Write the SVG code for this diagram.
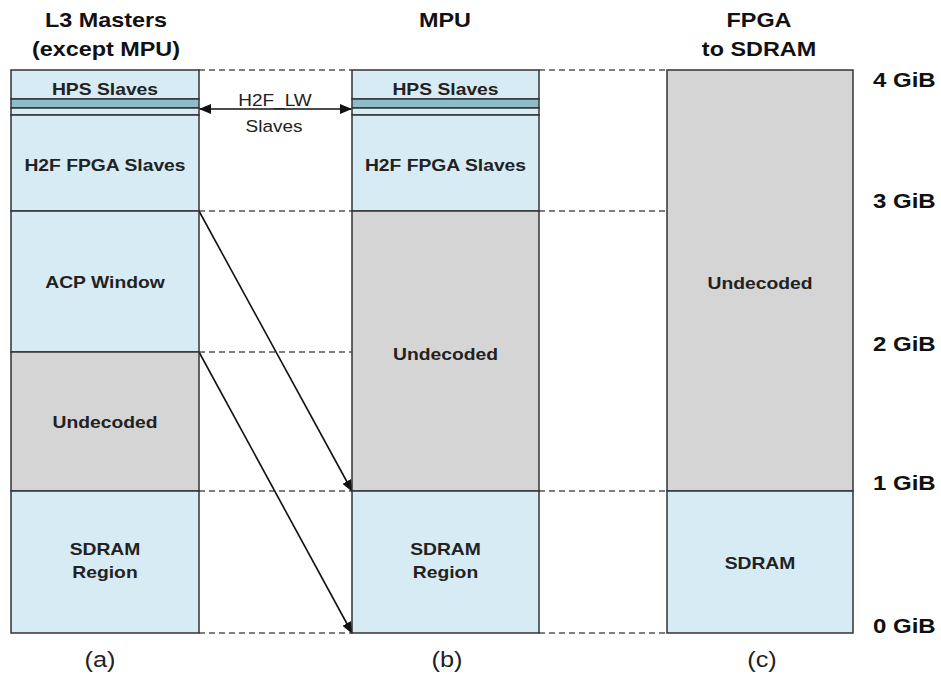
<svg xmlns="http://www.w3.org/2000/svg" width="941" height="677" viewBox="0 0 941 677">
<style>
.blue{fill:#d6ebf3;stroke:#333;stroke-width:1.5}
.gray{fill:#d5d5d5;stroke:#333;stroke-width:1.5}
.teal{fill:#8dbccb;stroke:#333;stroke-width:1.5}
.lbl{font-family:"Liberation Sans",Arial,sans-serif;font-weight:bold;font-size:16.5px;fill:#222;text-anchor:middle}
.ttl{font-family:"Liberation Sans",Arial,sans-serif;font-weight:bold;font-size:19.5px;fill:#111;text-anchor:middle}
.gib{font-family:"Liberation Sans",Arial,sans-serif;font-weight:bold;font-size:20px;fill:#111;text-anchor:start}
.cap{font-family:"Liberation Sans",Arial,sans-serif;font-size:22px;fill:#222;text-anchor:middle}
.norm{font-family:"Liberation Sans",Arial,sans-serif;font-size:16.5px;fill:#222;text-anchor:middle}
.dash{stroke:#555;stroke-width:1.5;stroke-dasharray:6 4;fill:none}
.arr{stroke:#111;stroke-width:1.6;fill:none}
</style>
<defs>
<marker id="ah" markerWidth="12" markerHeight="10" refX="11" refY="5" orient="auto" markerUnits="userSpaceOnUse">
<path d="M0,0 L12,5 L0,10 Z" fill="#111"/>
</marker>
<marker id="ahs" markerWidth="12" markerHeight="10" refX="1" refY="5" orient="auto" markerUnits="userSpaceOnUse">
<path d="M12,0 L0,5 L12,10 Z" fill="#111"/>
</marker>
</defs>
<rect width="941" height="677" fill="#fff"/>

<g id="titles">
<text class="ttl" transform="translate(106,27) scale(1.2,1)">L3 Masters</text>
<text class="ttl" transform="translate(106,56) scale(1.2,1)">(except MPU)</text>
<text class="ttl" transform="translate(445,27) scale(1.2,1)">MPU</text>
<text class="ttl" transform="translate(759,27) scale(1.2,1)">FPGA</text>
<text class="ttl" transform="translate(759,56) scale(1.2,1)">to SDRAM</text>
</g>

<g id="connectors">
<line class="dash" x1="199" y1="70" x2="352" y2="70"/>
<line class="dash" x1="539" y1="70" x2="667" y2="70"/>
<line class="dash" x1="199" y1="211" x2="352" y2="211"/>
<line class="dash" x1="539" y1="211" x2="667" y2="211"/>
<line class="dash" x1="199" y1="352" x2="352" y2="352"/>
<line class="dash" x1="199" y1="491" x2="352" y2="491"/>
<line class="dash" x1="539" y1="491" x2="667" y2="491"/>
<line class="dash" x1="199" y1="633" x2="352" y2="633"/>
<line class="dash" x1="539" y1="633" x2="667" y2="633"/>
<line class="arr" x1="199" y1="211" x2="352" y2="491" marker-end="url(#ah)"/>
<line class="arr" x1="199" y1="352" x2="352" y2="633" marker-end="url(#ah)"/>
<line class="arr" x1="200" y1="109" x2="351" y2="109" marker-start="url(#ahs)" marker-end="url(#ah)"/>
</g>

<g id="col-a">
<rect class="blue" x="11" y="70" width="188" height="29"/>
<rect class="teal" x="11" y="99" width="188" height="9"/>
<rect class="blue" x="11" y="108" width="188" height="7"/>
<rect class="blue" x="11" y="115" width="188" height="96"/>
<rect class="blue" x="11" y="211" width="188" height="141"/>
<rect class="gray" x="11" y="352" width="188" height="139"/>
<rect class="blue" x="11" y="491" width="188" height="142"/>
<text class="lbl" transform="translate(105,95) scale(1.17,1)">HPS Slaves</text>
<text class="lbl" transform="translate(105,171) scale(1.17,1)">H2F FPGA Slaves</text>
<text class="lbl" transform="translate(105,288) scale(1.17,1)">ACP Window</text>
<text class="lbl" transform="translate(105,428) scale(1.17,1)">Undecoded</text>
<text class="lbl" transform="translate(105,555) scale(1.17,1)">SDRAM</text>
<text class="lbl" transform="translate(105,578) scale(1.17,1)">Region</text>
</g>

<g id="col-b">
<rect class="blue" x="352" y="70" width="187" height="29"/>
<rect class="teal" x="352" y="99" width="187" height="9"/>
<rect class="blue" x="352" y="108" width="187" height="7"/>
<rect class="blue" x="352" y="115" width="187" height="96"/>
<rect class="gray" x="352" y="211" width="187" height="280"/>
<rect class="blue" x="352" y="491" width="187" height="142"/>
<text class="lbl" transform="translate(445.5,95) scale(1.17,1)">HPS Slaves</text>
<text class="lbl" transform="translate(445.5,171) scale(1.17,1)">H2F FPGA Slaves</text>
<text class="lbl" transform="translate(445.5,360) scale(1.17,1)">Undecoded</text>
<text class="lbl" transform="translate(445.5,555) scale(1.17,1)">SDRAM</text>
<text class="lbl" transform="translate(445.5,578) scale(1.17,1)">Region</text>
</g>

<g id="col-c">
<rect class="gray" x="667" y="70" width="186" height="421"/>
<rect class="blue" x="667" y="491" width="186" height="142"/>
<text class="lbl" transform="translate(760,289) scale(1.17,1)">Undecoded</text>
<text class="lbl" transform="translate(760,569) scale(1.17,1)">SDRAM</text>
</g>

<g id="h2f-lw-label">
<text class="norm" transform="translate(275,106) scale(1.15,1)">H2F_LW</text>
<text class="norm" transform="translate(274,132) scale(1.15,1)">Slaves</text>
</g>

<g id="scale">
<text class="gib" transform="translate(873,87) scale(1.2,1)">4 GiB</text>
<text class="gib" transform="translate(873,208) scale(1.2,1)">3 GiB</text>
<text class="gib" transform="translate(873,351) scale(1.2,1)">2 GiB</text>
<text class="gib" transform="translate(873,490) scale(1.2,1)">1 GiB</text>
<text class="gib" transform="translate(873,633) scale(1.2,1)">0 GiB</text>
</g>

<g id="captions">
<text class="cap" transform="translate(100,667) scale(1.15,1)">(a)</text>
<text class="cap" transform="translate(447,667) scale(1.15,1)">(b)</text>
<text class="cap" transform="translate(762,667) scale(1.15,1)">(c)</text>
</g>
</svg>
